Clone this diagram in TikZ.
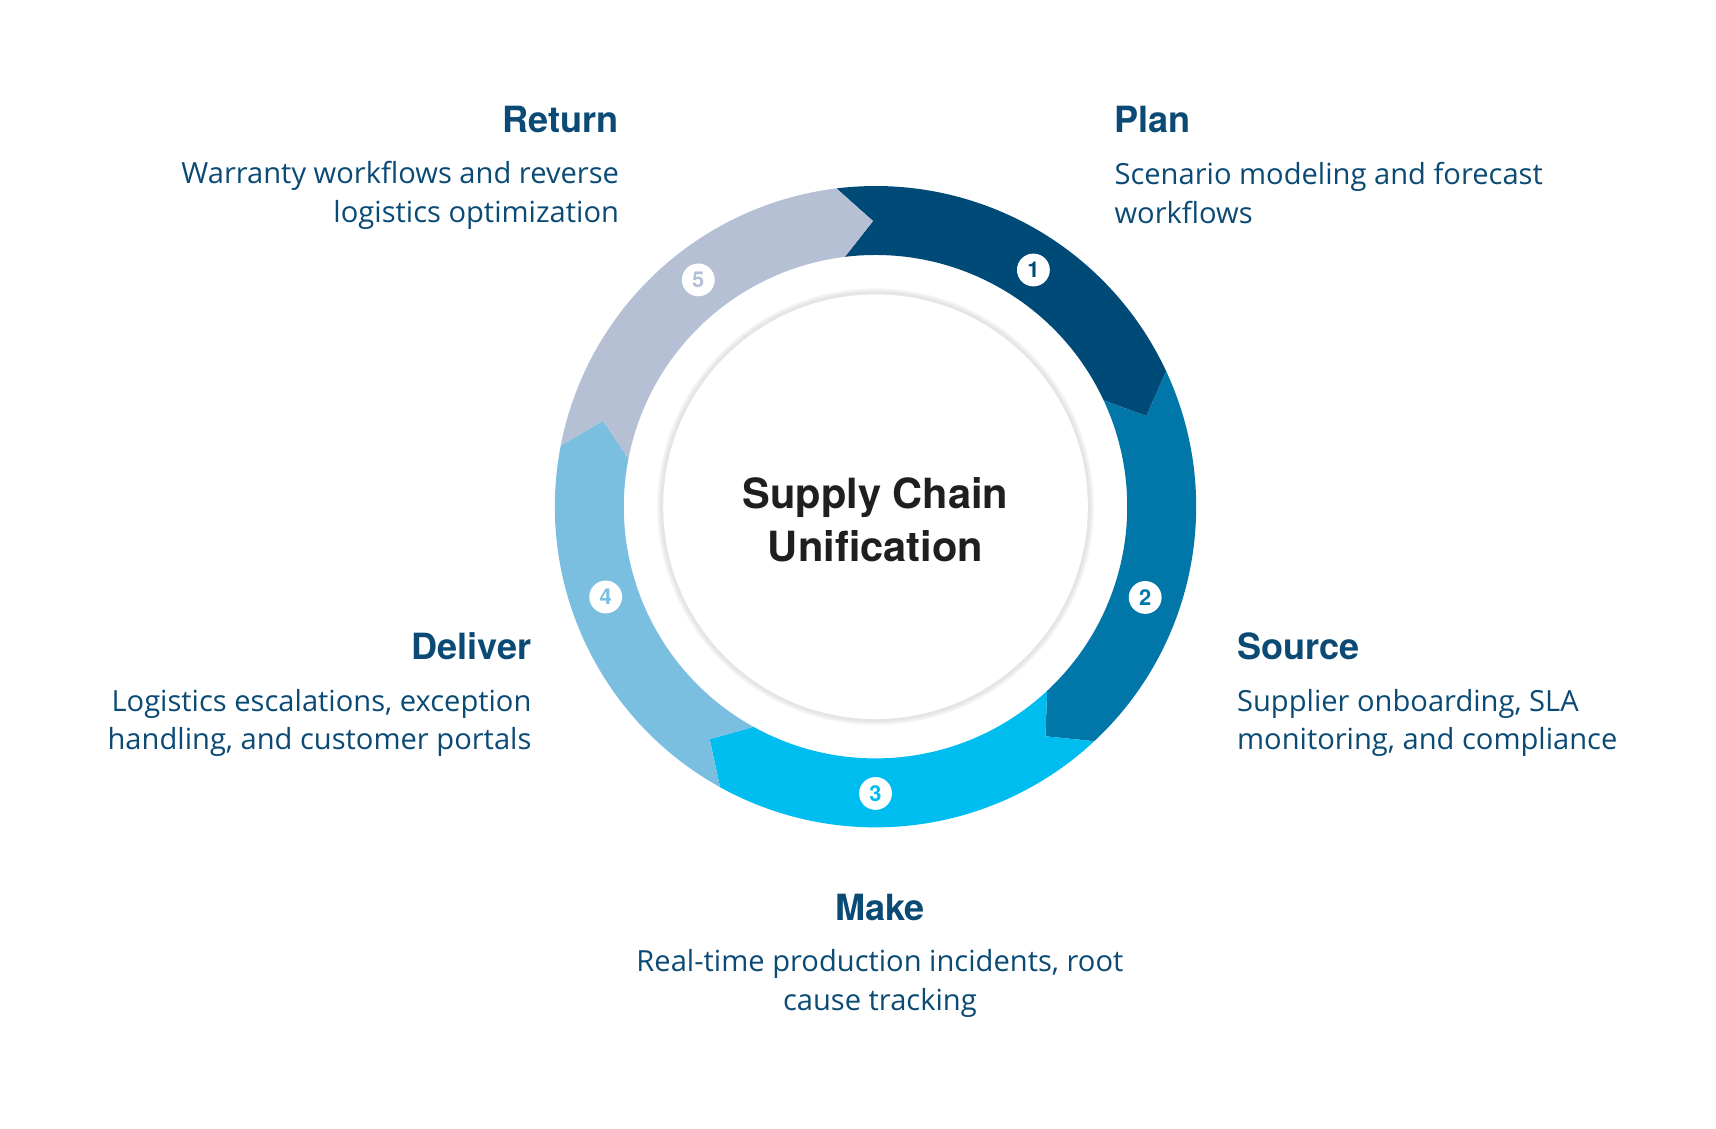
\documentclass[tikz,border=0pt]{standalone}
\usepackage{fontspec}
\setmainfont{Open Sans}
\newfontfamily\headfont{TeX Gyre Heros}
\begin{document}
\begin{tikzpicture}[x=0.5pt,y=-0.5pt,
  ttl/.style={font=\headfont\bfseries\fontsize{16.5}{20}\selectfont,text=txtblue,inner sep=0pt},
  dsc/.style={font=\fontsize{13.3}{17.5}\selectfont,text=txtblue,inner sep=0pt},
  num/.style={circle,fill=white,minimum size=15pt,inner sep=0pt,font=\headfont\bfseries\fontsize{10}{10}\selectfont}]
\definecolor{txtblue}{HTML}{0B4A74}
\definecolor{cA}{HTML}{004A78}
\definecolor{cB}{HTML}{0077A8}
\definecolor{cC}{HTML}{00BDF0}
\definecolor{cD}{HTML}{7BBFE0}
\definecolor{cE}{HTML}{B5C0D5}
\useasboundingbox (0,0) rectangle (1568,1031);
\newcommand\segment[2]{%
  \fill[#1] (#2:293) arc[start angle=#2, end angle={#2-72}, radius=293]
    -- ({#2-78.5}:261) -- ({#2-72}:230) arc[start angle={#2-72}, end angle=#2, radius=230]
    -- ({#2-6.5}:261) -- cycle;}
\begin{scope}[shift={(800,463)},y=0.5pt]
  \segment{cA}{97}
  \segment{cB}{25}
  \segment{cC}{-47}
  \segment{cD}{-119}
  \segment{cE}{-191}
  \foreach \w/\g in {9/4,6/7,3/10}{\draw[black!\g,line width=\w*0.5pt] (0,0) circle[radius=195];}
  \fill[white] (0,0) circle[radius=194];
  \node[num,text=cA] (n1) at (56.3:260) {1};
  \node[num,text=cB] (n2) at (-18.6:260) {2};
  \node[num,text=cC] (n3) at (-90:262) {3};
  \node[num,text=cD] (n4) at (198.5:260) {4};
  \node[num,text=cE] (n5) at (128:263) {5};
  \node[font=\headfont\bfseries\fontsize{19}{24.5}\selectfont,text=black!88,align=center] (ctr) at (0,-12) {Supply Chain\\Unification};
\end{scope}
\node[ttl,anchor=base east] (tret) at (566,121) {Return};
\node[dsc,anchor=base east,align=right] (dret) at (566,203) {Warranty workflows and reverse\\logistics optimization};
\node[ttl,anchor=base west] (tplan) at (1018,121) {Plan};
\node[dsc,anchor=base west,align=left] (dplan) at (1018,204) {Scenario modeling and forecast\\workflows};
\node[ttl,anchor=base east] (tdel) at (486,603) {Deliver};
\node[dsc,anchor=base east,align=right] (ddel) at (486,685) {Logistics escalations, exception\\handling, and customer portals};
\node[ttl,anchor=base west] (tsrc) at (1130,603) {Source};
\node[dsc,anchor=base west,align=left] (dsrc) at (1130,685) {Supplier onboarding, SLA\\monitoring, and compliance};
\node[ttl,anchor=base] (tmake) at (804,841) {Make};
\node[dsc,anchor=base,align=center] (dmake) at (804,923) {Real-time production incidents, root\\cause tracking};
\end{tikzpicture}
\end{document}
